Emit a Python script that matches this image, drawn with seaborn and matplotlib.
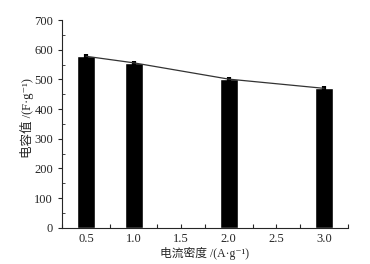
import matplotlib
matplotlib.use('Agg')
import matplotlib.pyplot as plt
import seaborn as sns
import pandas as pd
from matplotlib.ticker import MultipleLocator

# values
current_density = [0.5, 1.0, 2.0, 3.0]
capacitance = [578, 556, 501, 470]
error = [8, 7, 6, 7]

df = pd.DataFrame({'x': current_density, 'y': capacitance})

sns.set_style('ticks')
plt.rcParams['font.family'] = ['Liberation Serif', 'DejaVu Serif', 'Noto Sans CJK SC']

fig, ax = plt.subplots(figsize=(3.7, 2.64), dpi=100)
sns.barplot(data=df, x='x', y='y', native_scale=True, width=0.38,
            color='black', errorbar=None, ax=ax, zorder=2)
ax.errorbar(current_density, capacitance, yerr=error, fmt='none',
            ecolor='black', elinewidth=3, capsize=0, zorder=3)
sns.lineplot(data=df, x='x', y='y', color='#333333', linewidth=0.9, ax=ax, zorder=4)

ax.set_xlim(0.25, 3.25)
ax.set_ylim(0, 700)
ax.xaxis.set_minor_locator(MultipleLocator(0.25))
ax.yaxis.set_major_locator(MultipleLocator(100))
ax.yaxis.set_minor_locator(MultipleLocator(50))
ax.set_xticks([0.5, 1.0, 1.5, 2.0, 2.5, 3.0])
ax.set_xticklabels(['0.5', '1.0', '1.5', '2.0', '2.5', '3.0'])
ax.tick_params(axis='x', which='both', direction='in', length=3, width=0.8, labelsize=9, pad=4)
ax.tick_params(axis='y', which='major', direction='out', length=3, width=0.8, labelsize=9)
ax.tick_params(axis='y', which='minor', direction='in', length=2, width=0.6)
sns.despine(ax=ax)
for s in ['left', 'bottom']:
    ax.spines[s].set_linewidth(0.8)

ax.set_xlabel('电流密度 /(A·g⁻¹)', fontsize=8.5, labelpad=1)
ax.set_ylabel('电容值 /(F·g⁻¹)', fontsize=9)
ax.yaxis.set_label_coords(-0.10, 0.53)

fig.subplots_adjust(left=0.168, right=0.94, top=0.924, bottom=0.137)
fig.savefig('out.png', dpi=100)
